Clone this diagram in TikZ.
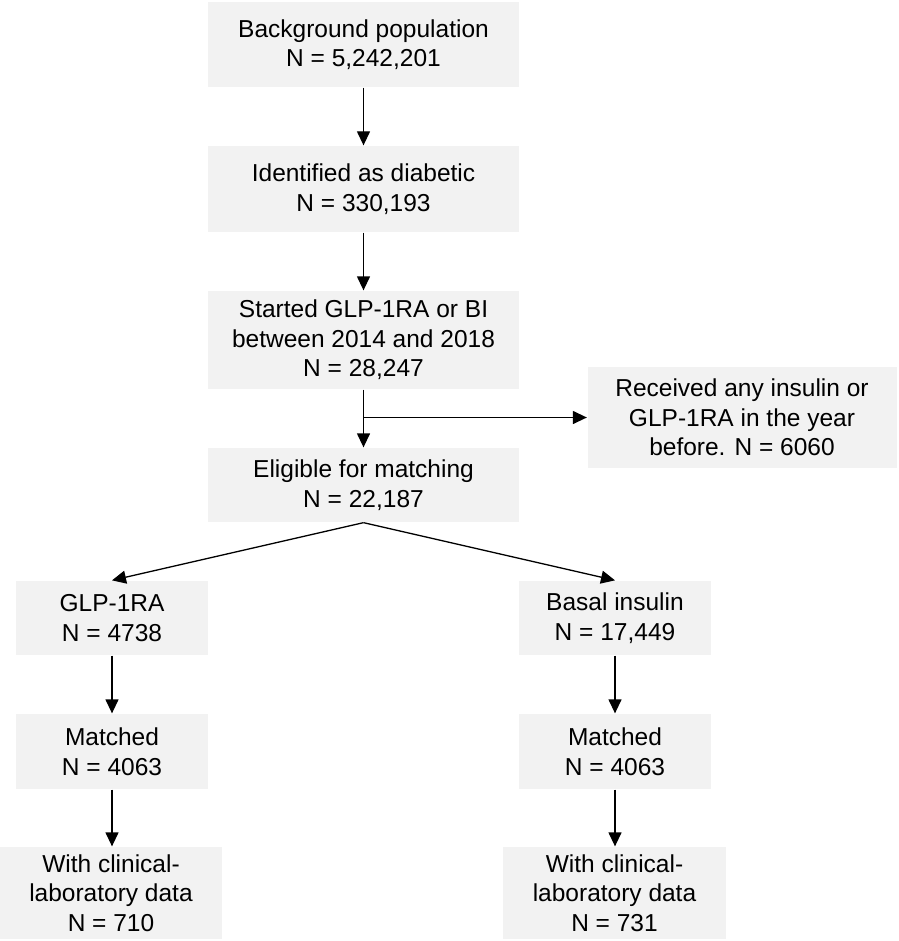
\documentclass[tikz,border=0pt]{standalone}
\usepackage{fontspec}
\setmainfont{Liberation Sans}
\usetikzlibrary{arrows.meta}
\definecolor{boxgray}{HTML}{F2F2F2}
\tikzset{
  stepbox/.style={fill=boxgray, align=center, inner sep=0pt,
    font=\fontsize{24.5}{29.5}\selectfont},
}
\begin{document}
\begin{tikzpicture}[x=1pt,y=-1pt,line width=1.3pt,>={Triangle[length=14pt,width=13pt]}]
\useasboundingbox (0,0) rectangle (898,941);
% main column
\node[stepbox,minimum width=311pt,minimum height=85pt] (bg) at (363.5,44.5) {Background population\\N = 5,242,201};
\node[stepbox,minimum width=311pt,minimum height=86pt] (diab) at (363.5,189) {Identified as diabetic\\N = 330,193};
\node[stepbox,minimum width=311pt,minimum height=98pt] (start) at (363.5,340) {Started GLP-1RA or BI\\between 2014 and 2018\\N = 28,247};
\node[stepbox,minimum width=309pt,minimum height=101pt] (excl) at (742,417.5) {Received any insulin or\\GLP-1RA in the year\\before. N = 6060};
\node[stepbox,minimum width=311pt,minimum height=74pt] (elig) at (363.5,485) {Eligible for matching\\N = 22,187};
% two arms
\node[stepbox,minimum width=192pt,minimum height=74pt] (glp) at (112,618) {GLP-1RA\\N = 4738};
\node[stepbox,minimum width=192pt,minimum height=74pt] (basal) at (615,618) {Basal insulin\\N = 17,449};
\node[stepbox,minimum width=192pt,minimum height=75pt] (matchL) at (112,751.5) {Matched\\N = 4063};
\node[stepbox,minimum width=192pt,minimum height=75pt] (matchR) at (615,751.5) {Matched\\N = 4063};
\node[stepbox,minimum width=222pt,minimum height=92pt] (clinL) at (111,893) {With clinical-\\laboratory data\\N = 710};
\node[stepbox,minimum width=223pt,minimum height=92pt] (clinR) at (614.5,893) {With clinical-\\laboratory data\\N = 731};
\coordinate (split) at (start.south |- excl.west);
\draw[->] (bg) -- (diab);
\draw[->] (diab) -- (start);
\draw[->] (start) -- (elig);
\draw[->] (split) -- (excl.west);
\draw[->] (elig.south) -- (glp.north);
\draw[->] (elig.south) -- (basal.north);
\draw[->] (glp) -- (matchL);
\draw[->] (basal) -- (matchR);
\draw[->] (matchL) -- (clinL.north -| matchL);
\draw[->] (matchR) -- (clinR.north -| matchR);
\end{tikzpicture}
\end{document}
